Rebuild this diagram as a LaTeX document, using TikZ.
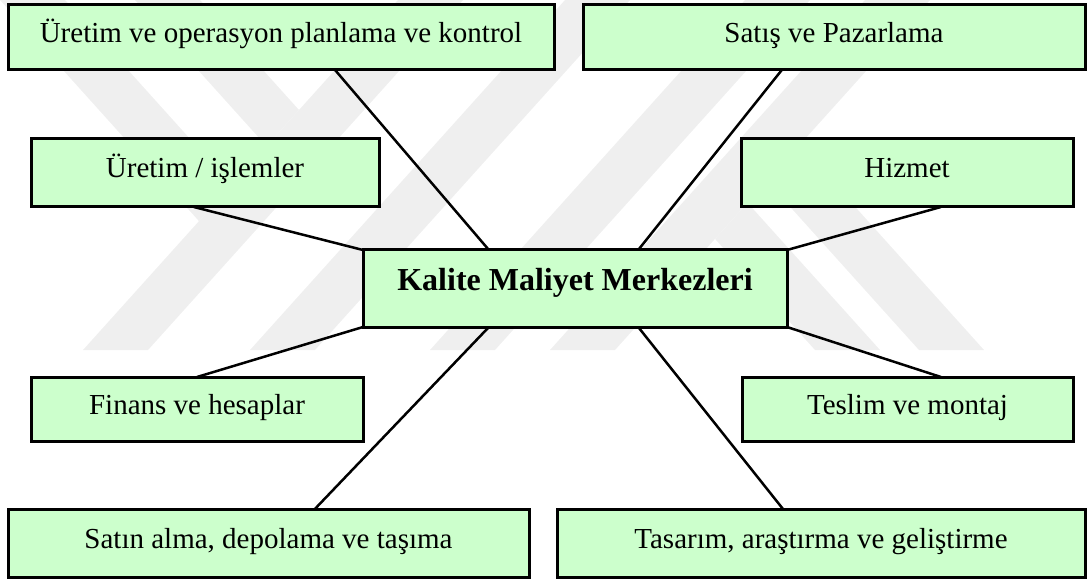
\documentclass[tikz,border=0pt]{standalone}
\usepackage{fontspec}
\setmainfont{Liberation Serif}
\usetikzlibrary{calc}
\definecolor{boxgreen}{RGB}{204,255,204}
\definecolor{markgray}{RGB}{239,239,239}
\begin{document}
\begin{tikzpicture}[x=1pt,y=-1pt,
  unit/.style={draw=black, line width=3pt, fill=boxgreen, rectangle,
    inner sep=0pt, outer sep=0pt, font=\fontsize{29}{34}\selectfont,
    text height=20pt, text depth=10pt},
  core/.style={unit, font=\fontsize{32}{38}\selectfont\bfseries,
    text height=22pt, text depth=19pt},
  link/.style={line width=2.5pt, draw=black},
  band/.style={fill=markgray, draw=none}]
\useasboundingbox (0,0) rectangle (1087,580);

% faint striped emblem behind the chart
\begin{scope}
  \clip (0,0) rectangle (1087,350);
  \foreach \x in {83,250,430,550}
    \fill[band] (\x,350) -- ++(65,0) -- ++(315,-350) -- ++(-65,0) -- cycle;
  \begin{scope}
    \clip (0,0) -- (398,0) -- (83,350) -- (0,350) -- cycle;
    \foreach \x in {0,135}
      \fill[band] (\x,0) -- ++(65,0) -- ++(315,350) -- ++(-65,0) -- cycle;
  \end{scope}
  \begin{scope}
    \clip (615,350) -- (930,0) -- (1087,0) -- (1087,350) -- cycle;
    \foreach \x in {500,604}
      \fill[band] (\x,0) -- ++(65,0) -- ++(315,350) -- ++(-65,0) -- cycle;
  \end{scope}
\end{scope}

% cost centres
\node[unit, minimum width=546pt, minimum height=65pt] (opc)   at (281,37.5)  {Üretim ve operasyon planlama ve kontrol};
\node[unit, minimum width=502pt, minimum height=65pt] (sales) at (834,37.5)  {Satış ve Pazarlama};
\node[unit, minimum width=348pt, minimum height=68pt] (ops)   at (205,173)   {Üretim / işlemler};
\node[unit, minimum width=332pt, minimum height=68pt] (serv)  at (907,173)   {Hizmet};
\node[core, minimum width=424pt, minimum height=77pt] (core)  at (575,288.5) {Kalite Maliyet Merkezleri};
\node[unit, minimum width=332pt, minimum height=64pt] (fin)   at (197,409)   {Finans ve hesaplar};
\node[unit, minimum width=331pt, minimum height=64pt] (deliv) at (907.5,409)  {Teslim ve montaj};
\node[unit, minimum width=521pt, minimum height=68pt] (purch) at (268.5,543)  {Satın alma, depolama ve taşıma};
\node[unit, minimum width=528pt, minimum height=68pt] (rnd)   at (821,543)   {Tasarım, araştırma ve geliştirme};

% spokes to the central box
\draw[link] ($(opc.south west)!0.599!(opc.south east)$) -- ($(core.north west)!0.297!(core.north east)$);
\draw[link] ($(sales.south west)!0.396!(sales.south east)$) -- ($(core.north west)!0.649!(core.north east)$);
\draw[link] ($(ops.south west)!0.468!(ops.south east)$) -- (core.north west);
\draw[link] ($(serv.south west)!0.602!(serv.south east)$) -- (core.north east);
\draw[link] (fin.north) -- (core.south west);
\draw[link] ($(deliv.north west)!0.601!(deliv.north east)$) -- (core.south east);
\draw[link] ($(purch.north west)!0.589!(purch.north east)$) -- ($(core.south west)!0.297!(core.south east)$);
\draw[link] ($(rnd.north west)!0.428!(rnd.north east)$) -- ($(core.south west)!0.649!(core.south east)$);
\end{tikzpicture}
\end{document}
